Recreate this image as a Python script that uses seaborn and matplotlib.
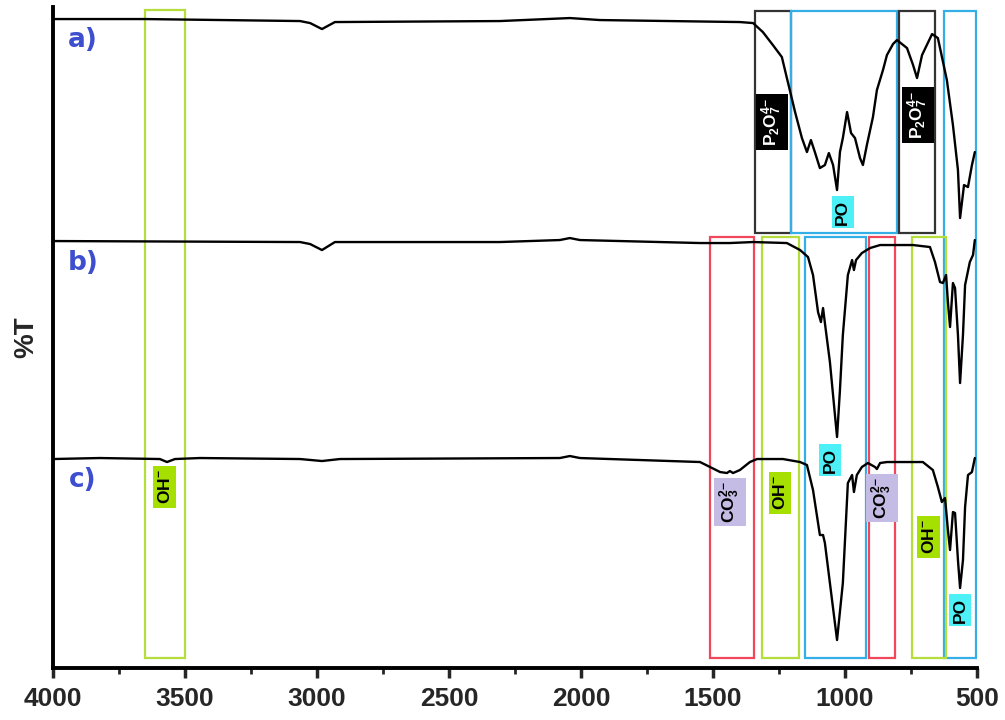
import numpy as np
import pandas as pd
import seaborn as sns
import matplotlib.pyplot as plt
from matplotlib.patches import Rectangle
from matplotlib.ticker import MultipleLocator

# ---- spectra (wavenumber, stacked %T units) ----
wn_a = [4000, 3652, 3064, 3026, 2981, 2932, 2307, 2042, 1928, 1398, 1348, 1311,
        1273, 1239, 1220, 1208, 1189, 1163, 1144, 1129, 1114, 1095, 1076, 1061,
        1045, 1030, 1019, 1008, 992, 977, 962, 943, 932, 917, 894, 879, 856, 841,
        818, 803, 765, 742, 727, 708, 670, 648, 614, 591, 572, 564, 549, 534,
        519, 508]
t_a = [649, 649, 647, 645, 639, 646, 647, 650, 648, 646, 645, 636,
       623, 611, 590, 577, 556, 530, 516, 528, 516, 500, 503, 515,
       503, 478, 516, 530, 556, 535, 530, 510, 503, 523, 551, 578, 598, 613,
       624, 628, 620, 603, 590, 613, 634, 630, 588, 543, 498, 450, 483, 481,
       503, 516]

wn_b = [4000, 3064, 3026, 2981, 2932, 2307, 2080, 2042, 2004, 1549, 1436, 1348,
        1220, 1170, 1140, 1121, 1102, 1091, 1083, 1076, 1057, 1030, 1019, 1008,
        989, 973, 966, 958, 936, 905, 867, 742, 678, 659, 640, 629, 617, 610,
        602, 591, 583, 572, 564, 553, 545, 527, 515, 508]
t_b = [427, 426, 424, 418, 426, 426, 428, 430, 428, 425, 425, 426,
       425, 418, 411, 393, 356, 346, 360, 345, 306, 231, 278, 333,
       393, 408, 398, 408, 415, 420, 423, 423, 421, 406, 386, 385, 393, 366,
       341, 385, 380, 333, 285, 333, 383, 406, 413, 428]

wn_c = [4000, 3822, 3595, 3568, 3538, 3443, 3064, 2981, 2913, 2080, 2042, 2004,
        1549, 1511, 1473, 1447, 1436, 1424, 1398, 1360, 1333, 1235, 1170, 1144,
        1121, 1095, 1083, 1076, 1030, 1008, 989, 973, 966, 955, 936, 913, 886,
        879, 867, 841, 705, 667, 648, 633, 621, 610, 602, 591, 583, 572, 564,
        553, 545, 534, 519, 508]
t_c = [209, 210, 209, 206, 209, 210, 209, 207, 209, 210, 212, 210,
       206, 201, 196, 195, 197, 195, 198, 206, 209, 209, 206, 203,
       178, 133, 133, 125, 28, 85, 185, 193, 176, 193, 201, 205, 201,
       199, 205, 206, 206, 198, 181, 166, 170, 138, 118, 156, 155, 108, 80,
       108, 161, 193, 196, 210]

# ---- band boxes: (high wn, low wn, bottom, top, colour) ----
box_hi = [3652, 1341, 1205, 795, 625, 1511, 1314, 1152, 909, 746]
box_lo = [3500, 1205, 803, 659, 504, 1345, 1174, 920, 811, 617]
box_bottom = [10, 435, 435, 435, 10, 10, 10, 10, 10, 10]
box_top = [658, 657, 657, 657, 657, 431, 431, 431, 431, 431]
box_color = ['#b5dd3c', '#333333', '#33aee6', '#333333', '#33aee6',
             '#f0485a', '#b5dd3c', '#33aee6', '#f0485a', '#b5dd3c']

# ---- band labels ----
P2O7 = r'$\mathbf{P_2O_7^{4\!-}}$'
CO3 = r'$\mathbf{CO_3^{2\!-}}$'
OH = r'$\mathbf{OH^{-}}$'
lab_text = [P2O7, P2O7, 'PO', 'PO', CO3, CO3, OH, OH, 'PO', OH]
lab_x = [1277, 723, 1008, 1057, 1436, 860, 1246, 682, 564, 3576]
lab_y = [546, 553, 456, 208, 166, 170, 175, 131, 58, 181]
lab_bg = ['black', 'black', '#4cf0f6', '#4cf0f6', '#c4bce4', '#c4bce4',
          '#a6e000', '#a6e000', '#4cf0f6', '#a6e000']
lab_fg = ['white', 'white', 'black', 'black', 'black', 'black',
          'black', 'black', 'black', 'black']

sns.set_style("white")
plt.rcParams['font.family'] = ['Liberation Sans', 'DejaVu Sans']
plt.rcParams['mathtext.fontset'] = 'custom'
plt.rcParams['mathtext.rm'] = 'Liberation Sans'
plt.rcParams['mathtext.bf'] = 'Liberation Sans:bold'

fig = plt.figure(figsize=(10.05, 7.2), dpi=100)
ax = fig.add_axes([0.0527, 0.0722, 0.9194, 0.918])

for wn, t in [(wn_a, t_a), (wn_b, t_b), (wn_c, t_c)]:
    df = pd.DataFrame({'wavenumber': wn, 'T': t})
    sns.lineplot(data=df, x='wavenumber', y='T', ax=ax, sort=False,
                 estimator=None, color='black', lw=1.7, zorder=3)

for hi, lo, b, t, c in zip(box_hi, box_lo, box_bottom, box_top, box_color):
    ax.add_patch(Rectangle((lo, b), hi - lo, t - b, fill=False,
                           edgecolor=c, lw=1.6, zorder=2))

for s, x, y, bg, fg in zip(lab_text, lab_x, lab_y, lab_bg, lab_fg):
    ax.text(x, y, s, rotation=90, ha='center', va='center', fontsize=12.5,
            fontweight='bold', color=fg, zorder=4,
            bbox=dict(boxstyle='square,pad=0.2', fc=bg, ec='none'))

for s, y in zip(['a)', 'b)', 'c)'], [628, 405, 188]):
    ax.text(3886, y, s, ha='center', va='center', fontsize=19,
            fontweight='bold', color='#3d4ecf', family='DejaVu Sans')

ax.set_xlim(4000, 500)
ax.set_ylim(0, 661)
ax.xaxis.set_major_locator(MultipleLocator(500))
ax.xaxis.set_minor_locator(MultipleLocator(250))
ax.set_yticks([])
ax.tick_params(axis='x', which='major', direction='out', length=7, width=2.5,
               pad=7, bottom=True)
ax.tick_params(axis='x', which='minor', direction='out', length=4, width=2,
               bottom=True)
for lbl in ax.get_xticklabels():
    lbl.set_family(['Liberation Sans Narrow', 'Liberation Sans', 'DejaVu Sans'])
    lbl.set_fontweight('bold')
    lbl.set_fontsize(19)
ax.set_xlabel('')
ax.set_ylabel('%T', fontsize=20, fontweight='bold', labelpad=10)

for side in ['top', 'right']:
    ax.spines[side].set_visible(False)
for side in ['left', 'bottom']:
    ax.spines[side].set_linewidth(2.8)
    ax.spines[side].set_color('black')

fig.savefig('out.png', dpi=100)
